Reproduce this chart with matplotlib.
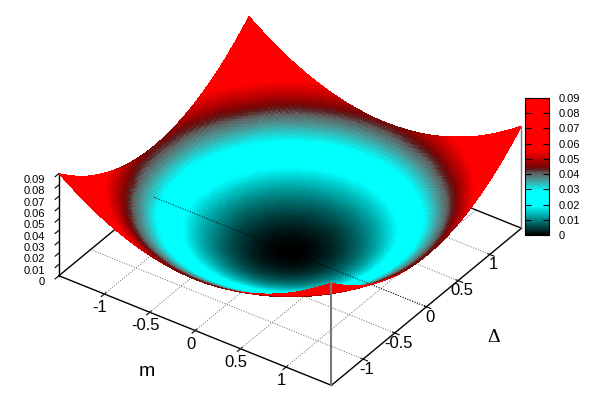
import matplotlib
matplotlib.use('Agg')
import matplotlib.pyplot as plt
import matplotlib.tri as mtri
import numpy as np
from matplotlib.colors import LinearSegmentedColormap

plt.rcParams['font.family'] = ['Liberation Sans', 'DejaVu Sans']

# table, m and delta step 0.25
m_vals = [-1.5, -1.25, -1.0, -0.75, -0.5, -0.25, 0, 0.25, 0.5, 0.75, 1.0, 1.25, 1.5]
d_vals = [-1.5, -1.25, -1.0, -0.75, -0.5, -0.25, 0, 0.25, 0.5, 0.75, 1.0, 1.25, 1.5]
z_rows = [
    [.0900, .0763, .0650, .0563, .0500, .0463, .0450, .0463, .0500, .0563, .0650, .0763, .0900],
    [.0763, .0625, .0513, .0425, .0363, .0325, .0313, .0325, .0363, .0425, .0513, .0625, .0763],
    [.0650, .0513, .0400, .0313, .0250, .0213, .0200, .0213, .0250, .0313, .0400, .0513, .0650],
    [.0563, .0425, .0313, .0225, .0163, .0125, .0113, .0125, .0163, .0225, .0313, .0425, .0563],
    [.0500, .0363, .0250, .0163, .0100, .0063, .0050, .0063, .0100, .0163, .0250, .0363, .0500],
    [.0463, .0325, .0213, .0125, .0063, .0025, .0013, .0025, .0063, .0125, .0213, .0325, .0463],
    [.0450, .0313, .0200, .0113, .0050, .0013, .0000, .0013, .0050, .0113, .0200, .0313, .0450],
    [.0463, .0325, .0213, .0125, .0063, .0025, .0013, .0025, .0063, .0125, .0213, .0325, .0463],
    [.0500, .0363, .0250, .0163, .0100, .0063, .0050, .0063, .0100, .0163, .0250, .0363, .0500],
    [.0563, .0425, .0313, .0225, .0163, .0125, .0113, .0125, .0163, .0225, .0313, .0425, .0563],
    [.0650, .0513, .0400, .0313, .0250, .0213, .0200, .0213, .0250, .0313, .0400, .0513, .0650],
    [.0763, .0625, .0513, .0425, .0363, .0325, .0313, .0325, .0363, .0425, .0513, .0625, .0763],
    [.0900, .0763, .0650, .0563, .0500, .0463, .0450, .0463, .0500, .0563, .0650, .0763, .0900],
]
m_ticks = [-1, -0.5, 0, 0.5, 1]
d_ticks = [-1, -0.5, 0, 0.5, 1]
z_ticks = [0, 0.01, 0.02, 0.03, 0.04, 0.05, 0.06, 0.07, 0.08, 0.09]
z_labels = ['0', '0.01', '0.02', '0.03', '0.04', '0.05', '0.06', '0.07', '0.08', '0.09']

pal_pos = [0, 0.2111, 0.3222, 0.4, 0.45, 0.4778, 0.5, 0.5556, 0.6222, 1]
pal_col = ['black', '#00ffff', '#00ffff', '#4a9a9a', '#606060', '#5a2020', '#7a0505', '#c00000', '#ff0000', '#ff0000']
cmap = LinearSegmentedColormap.from_list('pal', list(zip(pal_pos, pal_col)), N=256)

M, D = np.meshgrid(m_vals, d_vals)
Z = np.array(z_rows)

tri = mtri.Triangulation(M.ravel(), D.ravel())
tri_fine, z_fine = mtri.UniformTriRefiner(tri).refine_field(Z.ravel(), subdiv=3)

fig = plt.figure(figsize=(6, 4.2), dpi=100)
# large square axes, the 3d box gets scaled down with zoom
ax = fig.add_axes([(279.4 - 400) / 600, (420 - 211.7 - 400) / 420, 800 / 600, 800 / 420],
                  projection='3d', computed_zorder=False)
ax.set_proj_type('ortho')
ax.view_init(elev=35.2, azim=-55.1)
ax.set_box_aspect((332, 332, 125), zoom=0.59)
ax.set_xlim(-1.5, 1.5)
ax.set_ylim(-1.5, 1.5)
ax.set_zlim(0, 0.09)
ax.patch.set_alpha(0)
ax.grid(False)
for axis in (ax.xaxis, ax.yaxis, ax.zaxis):
    axis.pane.set_visible(False)
    axis.line.set_color('black')
    axis.line.set_linewidth(1.0)
ax.zaxis.set_ticks_position('lower')
ax.zaxis.set_label_position('lower')
ax.zaxis._axinfo['tick']['inward_factor'] = 0.25
ax.zaxis._axinfo['tick']['outward_factor'] = 0.0

ax.set_xticks(m_ticks, ['-1', '-0.5', '0', '0.5', '1'])
ax.set_yticks(d_ticks, ['-1', '-0.5', '0', '0.5', '1'])
ax.set_zticks(z_ticks, z_labels)
ax.tick_params(axis='x', labelsize=12, pad=-1)
ax.tick_params(axis='y', labelsize=12, pad=-4)
ax.tick_params(axis='z', labelsize=8, pad=1)
for lab in ax.zaxis.get_ticklabels():
    lab.set_ha('right')

# dotted floor grid and box edges
for v in m_ticks:
    ax.plot([v, v], [-1.5, 1.5], [0, 0], color='#666666', lw=0.7, ls=':', zorder=1)
for v in d_ticks:
    ax.plot([-1.5, 1.5], [v, v], [0, 0], color='#666666', lw=0.7, ls=':', zorder=1)
ax.plot([-1.5, -1.5, 1.5], [-1.5, 1.5, 1.5], [0, 0, 0], color='black', lw=1.0, zorder=1)

surf = ax.plot_trisurf(tri_fine, z_fine, cmap=cmap, vmin=0, vmax=0.09, linewidth=0,
                       antialiased=False, zorder=2)

ax.plot([-1.5, 1.5], [0, 0], [0, 0], color='black', lw=0.7, ls=':', zorder=3)
ax.plot([1.5, 1.5], [-1.5, -1.5], [0, 0.09], color='#777777', lw=1.5, zorder=3)
ax.plot([1.5, 1.5], [1.5, 1.5], [0, 0.09], color='#777777', lw=1.0, zorder=3)

cax = fig.add_axes([525 / 600, 1 - 235 / 420, 24 / 600, 137 / 420])
cb = fig.colorbar(surf, cax=cax, ticks=z_ticks)
cb.ax.set_yticklabels(z_labels)
cb.ax.tick_params(direction='in', length=4, width=0.8, labelsize=8, pad=7, left=True, right=True)
cb.outline.set_linewidth(0.8)

fig.text(147 / 600, 1 - 372 / 420, 'm', fontsize=14, ha='center', va='center')
fig.text(494 / 600, 1 - 338 / 420, 'Δ', fontsize=14, ha='center', va='center', family='Liberation Serif')

fig.savefig('out.png', dpi=100)
